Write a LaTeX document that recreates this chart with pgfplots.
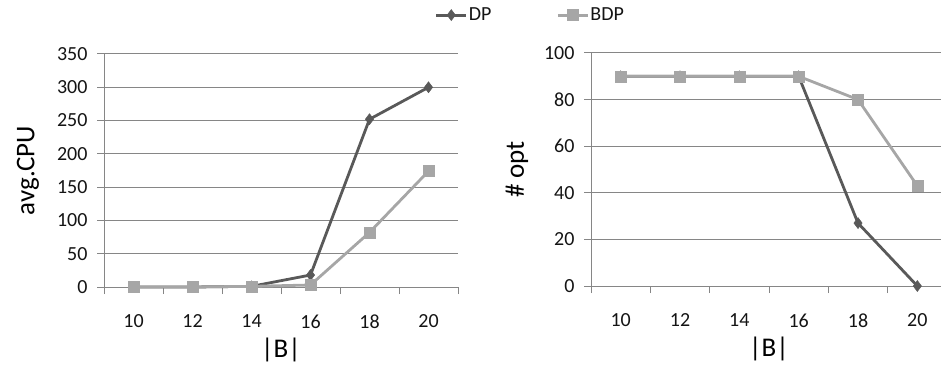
\documentclass[border=0pt]{standalone}
\usepackage{pgfplots}
\pgfplotsset{compat=1.18}
\usepackage{fontspec}
\setmainfont{Carlito}
\definecolor{dp}{RGB}{89,89,89}
\definecolor{bdp}{RGB}{166,166,166}
\definecolor{axc}{RGB}{134,134,134}
\definecolor{txt}{RGB}{20,20,20}
\pgfplotsset{
  myax/.style={
    scale only axis, width=354pt, height=233pt,
    axis x line*=bottom, axis y line*=left,
    axis line style={-, axc, line width=1pt},
    xmin=9, xmax=21,
    xtick={10,12,...,20},
    minor xtick={9,11,...,21},
    major x tick style={draw=none},
    minor x tick style={axc, line width=1pt},
    y tick style={axc, line width=1pt},
    tick align=outside,
    major tick length=7pt, minor tick length=7pt,
    ymajorgrids, grid style={axc, line width=1pt},
    ymin=0,
    /pgf/number format/assume math mode=true,
    tick label style={font=\fontsize{20}{24}\selectfont, text=txt},
    xticklabel style={yshift=-17pt},
    yticklabel style={xshift=-6pt},
    every axis x label/.style={at={(axis description cs:0.5,-0.27)}, anchor=center, font=\fontsize{27}{32}\selectfont},
    clip=false,
  },
  dpst/.style={dp, line width=2.8pt, mark=diamond*, mark size=5.5pt, mark options={solid, fill=dp, draw=dp, line width=0.5pt}},
  bdpst/.style={bdp, line width=2.8pt, mark=square*, mark size=5.5pt, mark options={solid, fill=bdp, draw=bdp, line width=0.5pt}},
}
\begin{document}
\begin{tikzpicture}
\path[use as bounding box] (0pt,0pt) rectangle (941pt,367pt);
\begin{axis}[myax, at={(104pt,80pt)}, anchor=south west,
  ymax=350, ytick distance=50,
  xlabel={|B|}, ylabel={avg.CPU},
  every axis y label/.style={at={(axis description cs:-0.215,0.5)}, rotate=90, anchor=center, font=\fontsize{27}{32}\selectfont},
  legend style={at={(rel axis cs:1.203,1.167)}, anchor=center, draw=none, fill=none,
    legend columns=2,
    nodes={font=\fontsize{20}{24}\selectfont, inner sep=1pt, text=txt},
    /tikz/every even column/.append style={column sep=64pt},
    legend cell align=left, inner sep=0pt},
  legend image code/.code={\draw[line width=3pt, mark repeat=2,mark phase=2] plot coordinates {(0pt,0pt)(15pt,0pt)(30pt,0pt)};},
]
\addplot[dpst] coordinates {(10,0)(12,0)(14,1)(16,18)(18,252)(20,300)};
\addlegendentry{DP}
\addplot[bdpst] coordinates {(10,0)(12,0)(14,1)(16,3)(18,82)(20,174)};
\addlegendentry{BDP}
\end{axis}
\begin{axis}[myax, at={(591pt,81pt)}, anchor=south west, width=356pt,
  ymax=100, ytick distance=20,
  xlabel={|B|}, ylabel={\# opt},
  every axis y label/.style={at={(axis description cs:-0.208,0.5)}, rotate=90, anchor=center, font=\fontsize{27}{32}\selectfont},
]
\addplot[dpst] coordinates {(10,90)(12,90)(14,90)(16,90)(18,27)(20,0)};
\addplot[bdpst] coordinates {(10,90)(12,90)(14,90)(16,90)(18,80)(20,43)};
\end{axis}
\end{tikzpicture}
\end{document}
